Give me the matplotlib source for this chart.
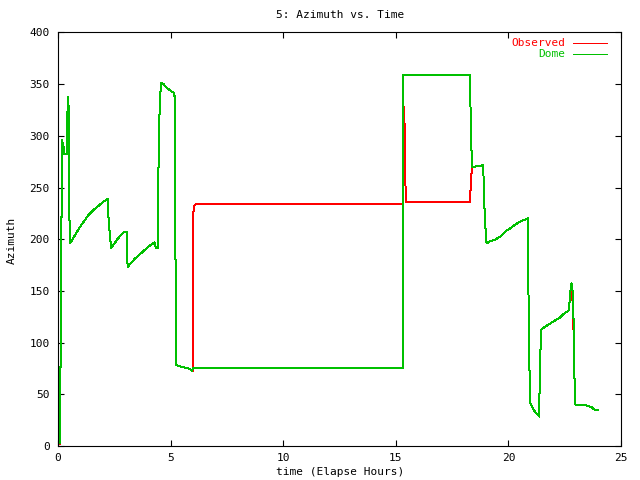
import matplotlib.pyplot as plt
import numpy as np

plt.rcParams['font.family'] = 'DejaVu Sans Mono'
plt.rcParams['font.size'] = 8

# start of the night (dome and observed differ a little)
dome_start_t = [0.00, 0.09, 0.09, 0.13]
dome_start_az = [2.6, 2.6, 76.7, 76.7]
obs_start_t = [0.00, 0.09, 0.09, 0.12, 0.12]
obs_start_az = [2.0, 2.0, 72.0, 77.0, 213.0]

# shared track, 0.13 h to 5.5 h
morning_t = [0.13, 0.19, 0.19, 0.22, 0.28, 0.28, 0.39, 0.39, 0.41, 0.41, 0.46, 0.46,
             0.49, 0.50, 0.53, 0.58, 0.76, 0.98, 1.20, 1.35, 1.57, 1.79, 2.02, 2.19,
             2.24, 2.24, 2.31, 2.36, 2.46, 2.61, 2.83, 2.91, 3.06, 3.06, 3.10, 3.20,
             3.43, 3.72, 4.02, 4.29, 4.35, 4.44, 4.44, 4.49, 4.57, 4.69, 4.84, 4.98,
             5.13, 5.18, 5.21, 5.21, 5.25, 5.50]
morning_az = [221.8, 221.8, 296.0, 289.5, 289.5, 282.4, 282.4, 296.0, 296.0, 323.0, 323.0, 338.0,
              302.0, 231.0, 196.0, 197.6, 204.0, 212.0, 218.6, 223.4, 228.2, 232.0, 236.3, 238.6,
              238.6, 222.0, 202.4, 191.2, 194.4, 199.2, 205.0, 206.6, 206.6, 183.0, 173.4, 176.0,
              181.5, 187.0, 192.8, 197.0, 191.2, 191.2, 231.4, 312.0, 351.4, 350.0, 346.0, 344.0,
              341.7, 338.0, 338.0, 207.0, 78.3, 76.5]

# parked part of the night
dome_park_t = [5.73, 5.87, 5.95, 5.99, 15.30, 15.30, 15.34, 15.34, 18.31, 18.31, 18.35, 18.39]
dome_park_az = [75.5, 74.5, 72.8, 75.1, 75.1, 146.0, 146.0, 358.8, 358.8, 336.0, 292.7, 269.5]
obs_park_t = [5.73, 5.87, 5.95, 5.98, 5.98, 6.02, 6.10, 15.30, 15.30, 15.36, 15.37, 15.41,
              15.44, 18.31, 18.31, 18.35, 18.39]
obs_park_az = [75.5, 74.5, 72.5, 72.5, 151.0, 231.5, 233.7, 234.0, 265.0, 265.0, 328.0, 289.0,
               236.3, 236.3, 244.4, 260.4, 269.5]

# shared track, 18.4 h to 22.8 h
evening_t = [18.66, 18.87, 18.90, 18.93, 18.97, 19.03, 19.15, 19.45, 19.67, 19.89, 20.12, 20.34,
             20.56, 20.78, 20.87, 20.88, 20.92, 20.98, 21.04, 21.12, 21.23, 21.33, 21.38, 21.38,
             21.42, 21.47, 21.60, 21.82, 22.04, 22.27, 22.49, 22.67, 22.71, 22.76, 22.80]
evening_az = [270.8, 271.5, 259.0, 234.7, 215.0, 196.0, 197.6, 200.0, 203.0, 208.0, 211.0, 214.7,
              217.6, 219.2, 220.2, 175.0, 86.4, 41.3, 38.7, 34.8, 32.0, 30.0, 28.4, 49.3,
              91.2, 112.8, 114.8, 118.0, 120.9, 124.0, 128.3, 130.9, 138.0, 150.9, 157.3]

# end of the night
dome_end_t = [22.84, 22.89, 22.93, 22.98, 23.08, 23.38, 23.53, 23.75, 23.79, 23.97]
dome_end_az = [154.0, 125.0, 68.7, 39.7, 40.0, 40.0, 38.6, 37.0, 35.5, 34.8]
obs_end_t = [22.84, 22.89, 22.93, 22.98, 23.08, 23.38, 23.53, 23.75, 23.79, 23.97]
obs_end_az = [145.0, 114.0, 68.7, 39.7, 40.0, 40.0, 38.6, 37.0, 35.5, 34.8]

dome_t = np.concatenate([dome_start_t, morning_t, dome_park_t, evening_t, dome_end_t])
dome_az = np.concatenate([dome_start_az, morning_az, dome_park_az, evening_az, dome_end_az])
obs_t = np.concatenate([obs_start_t, morning_t, obs_park_t, evening_t, obs_end_t])
obs_az = np.concatenate([obs_start_az, morning_az, obs_park_az, evening_az, obs_end_az])

lw = 0.72  # one pixel at 100 dpi

fig = plt.figure(figsize=(6.4, 4.8), dpi=100)
ax = fig.add_axes([0.0906, 0.0708, 0.8797, 0.8617])

ax.plot(obs_t, obs_az, color='#ff0000', lw=lw, antialiased=False)
ax.plot(dome_t, dome_az, color='#00c000', lw=lw, antialiased=False)

ax.set_xlim(0, 25)
ax.set_ylim(0, 400)
ax.set_xticks(np.arange(0, 26, 5))
ax.set_yticks(np.arange(0, 401, 50))
ax.tick_params(direction='in', length=4, width=0.8, top=True, right=True)
ax.tick_params(axis='y', pad=6)
ax.tick_params(axis='x', pad=5)
for s in ax.spines.values():
    s.set_linewidth(0.8)

# legend, gnuplot style
ax.text(0.9005, 0.9737, 'Observed', color='#ff0000', ha='right', va='center', transform=ax.transAxes)
ax.plot([0.915, 0.975], [0.9737, 0.9737], color='#ff0000', lw=lw, antialiased=False, transform=ax.transAxes)
ax.text(0.9005, 0.948, 'Dome', color='#00c000', ha='right', va='center', transform=ax.transAxes)
ax.plot([0.915, 0.975], [0.948, 0.948], color='#00c000', lw=lw, antialiased=False, transform=ax.transAxes)

fig.text(0.531, 1 - 15 / 480, '5: Azimuth vs. Time', ha='center', va='center')
fig.text(0.531, 1 - 472 / 480, 'time (Elapse Hours)', ha='center', va='center')
fig.text(12 / 640, 0.5, 'Azimuth', rotation=90, ha='center', va='center')

fig.savefig('out.png', dpi=100)
